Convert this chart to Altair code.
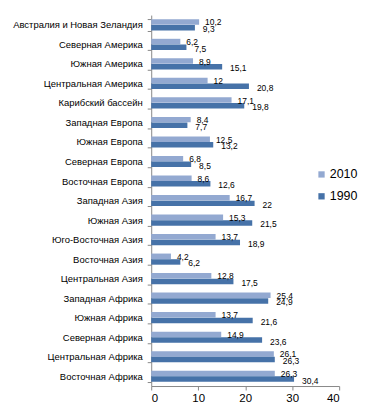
import altair as alt
import pandas as pd

regions = [
    "Австралия и Новая Зеландия", "Северная Америка", "Южная Америка",
    "Центральная Америка", "Карибский бассейн", "Западная  Европа",
    "Южная Европа", "Северная Европа", "Восточная Европа", "Западная  Азия",
    "Южная Азия", "Юго-Восточная  Азия", "Восточная Азия", "Центральная Азия",
    "Западная  Африка", "Южная Африка", "Северная Африка", "Центральная Африка",
    "Восточная Африка",
]
values_2010 = [10.2, 6.2, 8.9, 12, 17.1, 8.4, 12.5, 6.8, 8.6, 16.7, 15.3, 13.7,
               4.2, 12.8, 25.4, 13.7, 14.9, 26.1, 26.3]
values_1990 = [9.3, 7.5, 15.1, 20.8, 19.8, 7.7, 13.2, 8.5, 12.6, 22, 21.5, 18.9,
               6.2, 17.5, 24.9, 21.6, 23.6, 26.3, 30.4]
series = ["2010", "1990"]
colors = ["#93A9D1", "#4672A8"]

rows = []
for r, a, b in zip(regions, values_2010, values_1990):
    for s, v in zip(series, [a, b]):
        rows.append({"region": r, "series": s, "value": v,
                     "label": f"{v:g}".replace(".", ",")})
df = pd.DataFrame(rows)

y_enc = alt.Y("region:N", sort=regions, title=None,
              scale=alt.Scale(paddingInner=0.42, paddingOuter=0.21),
              axis=alt.Axis(labelFontSize=9.5, labelColor="#000000", tickBand="extent",
                            tickSize=4, labelPadding=5, domainColor="#888888",
                            tickColor="#888888", labelLimit=200))
yoff = alt.YOffset("series:N", sort=series)

bars = alt.Chart(df).mark_bar(size=5.5).encode(
    x=alt.X("value:Q", title=None, scale=alt.Scale(domain=[0, 40]),
            axis=alt.Axis(values=[0, 10, 20, 30, 40], grid=False, labelFontSize=11.5,
                          labelColor="#000000", tickSize=4, domainColor="#888888",
                          tickColor="#888888", labelPadding=3)),
    y=y_enc,
    yOffset=yoff,
    color=alt.Color("series:N", scale=alt.Scale(domain=series, range=colors),
                    legend=alt.Legend(title=None, orient="none", legendX=165, legendY=154,
                                      symbolType="square", symbolSize=40,
                                      labelFontSize=12.5, labelColor="#000000",
                                      rowPadding=9, labelOffset=2, symbolStrokeWidth=0)),
)

t2010 = alt.Chart(df).transform_filter(alt.datum.series == "2010").mark_text(
    align="left", baseline="middle", dx=6, dy=0.5, fontSize=8.5, color="#000000"
).encode(x="value:Q", y=alt.Y("region:N", sort=regions), yOffset=yoff, text="label:N")

t1990 = alt.Chart(df).transform_filter(alt.datum.series == "1990").mark_text(
    align="left", baseline="middle", dx=8, dy=1.5, fontSize=8.5, color="#000000"
).encode(x="value:Q", y=alt.Y("region:N", sort=regions), yOffset=yoff, text="label:N")

chart = alt.layer(bars, t2010, t1990).properties(
    width=189, height=373, autosize="none",
    padding={"left": 144, "top": 6, "right": 30, "bottom": 24},
).configure(font="Liberation Sans").configure_view(stroke=None)

chart.save("out.html", embed_options={"renderer": "svg", "actions": False})
